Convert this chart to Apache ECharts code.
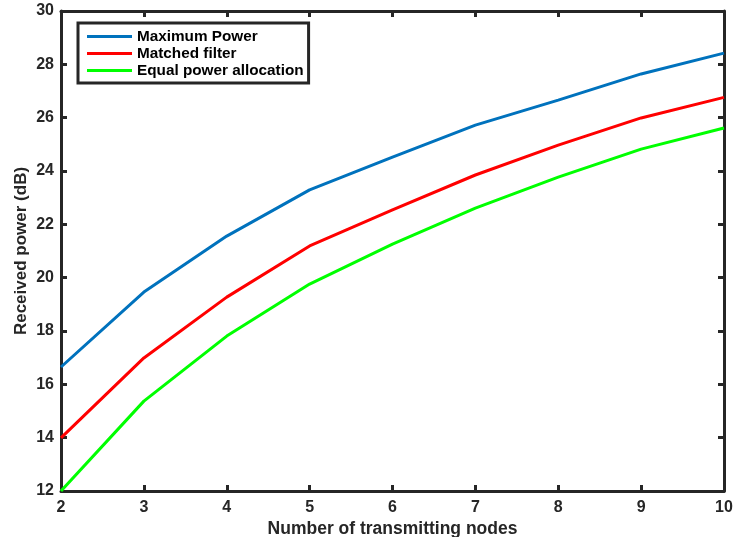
<!DOCTYPE html>
<html><head><meta charset="utf-8">
<script src="https://cdn.jsdelivr.net/npm/echarts@6/dist/echarts.min.js"></script>
<style>html,body{margin:0;padding:0;background:#fff}#c{width:736px;height:537px}</style>
</head><body><div id="c"></div>
<script>
const categories = [2,3,4,5,6,7,8,9,10];
const maxPower = [16.65,19.46,21.56,23.29,24.52,25.72,26.66,27.64,28.42];
const matchedFilter = [13.99,16.99,19.27,21.19,22.54,23.85,24.97,25.99,26.76];
const equalPower = [12.0,15.37,17.81,19.76,21.26,22.61,23.77,24.82,25.61];
const seriesNames = ['Maximum Power','Matched filter','Equal power allocation'];
const colors = ['#0072BD','#FF0000','#00FF00'];

const font = 'Liberation Sans, Arial, Helvetica, sans-serif';
const axisLine = {show:true, lineStyle:{color:'#262626', width:3}};
const tick = {show:true, inside:true, length:6, lineStyle:{color:'#262626', width:3}};
const chart = echarts.init(document.getElementById('c'));
const data = [maxPower, matchedFilter, equalPower];
chart.setOption({
  animation:false,
  grid:{left:61, right:12, top:11, bottom:46, containLabel:false, outerBoundsMode:'none'},
  legend:{
    orient:'vertical', left:78, top:23, data:seriesNames,
    icon:'rect', itemWidth:45, itemHeight:3, itemGap:2,
    borderColor:'#262626', borderWidth:3, backgroundColor:'#fff',
    padding:[6,5,5,9],
    textStyle:{fontFamily:font, fontWeight:'bold', fontSize:15.3, color:'#000'}
  },
  xAxis:[
    {type:'value', min:2, max:10, interval:1, position:'bottom',
     name:'Number of transmitting nodes', nameLocation:'middle', nameGap:29, nameMoveOverlap:false,
     nameTextStyle:{fontFamily:font, fontWeight:'bold', fontSize:17.5, color:'#262626'},
     axisLine:axisLine, axisTick:tick, splitLine:{show:false},
     axisLabel:{fontFamily:font, fontWeight:'bold', fontSize:16, color:'#262626', margin:9}},
    {type:'value', min:2, max:10, interval:1, position:'top',
     axisLine:axisLine, axisTick:tick, splitLine:{show:false}, axisLabel:{show:false}}
  ],
  yAxis:[
    {type:'value', min:12, max:30, interval:2, position:'left',
     name:'Received power (dB)', nameLocation:'middle', nameGap:31, nameMoveOverlap:false,
     nameTextStyle:{fontFamily:font, fontWeight:'bold', fontSize:17, color:'#262626'},
     axisLine:axisLine, axisTick:tick, splitLine:{show:false},
     axisLabel:{fontFamily:font, fontWeight:'bold', fontSize:16, color:'#262626', margin:7}},
    {type:'value', min:12, max:30, interval:2, position:'right',
     axisLine:axisLine, axisTick:tick, splitLine:{show:false}, axisLabel:{show:false}}
  ],
  series: seriesNames.map((n,i)=>({
    name:n, type:'line', showSymbol:false, symbol:'none',
    color:colors[i], lineStyle:{width:3, color:colors[i]},
    data: categories.map((c,j)=>[c, data[i][j]])
  }))
});
</script></body></html>
